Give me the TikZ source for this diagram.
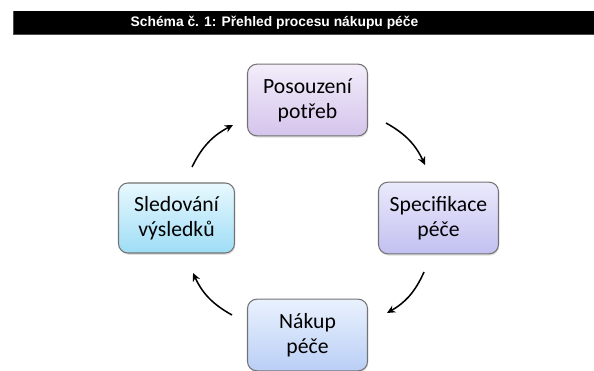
\documentclass[tikz,border=0pt]{standalone}
\usepackage{fontspec}
\setmainfont{Carlito}
\newfontfamily\titlefont{Liberation Sans}
\usetikzlibrary{arrows.meta,shadows}

\definecolor{needtop}{RGB}{243,237,250}
\definecolor{needbot}{RGB}{212,196,236}
\definecolor{spectop}{RGB}{234,234,252}
\definecolor{specbot}{RGB}{194,192,240}
\definecolor{buytop}{RGB}{233,241,253}
\definecolor{buybot}{RGB}{186,207,246}
\definecolor{tracktop}{RGB}{232,248,254}
\definecolor{trackbot}{RGB}{158,221,246}

\begin{document}
\begin{tikzpicture}[x=0.03cm, y=-0.03cm, node distance=3.93cm,
  block/.style={draw=black!55, line width=0.9pt, rounded corners=8pt, minimum width=3.6cm, minimum height=2.15cm, align=center, font=\fontsize{18.5}{21.5}\selectfont, drop shadow={shadow xshift=0.6pt, shadow yshift=-1.5pt, opacity=0.25}},
  cycle/.style={-{Stealth[length=7pt, width=6.5pt]}, line width=1.3pt, bend left=18}]

  \useasboundingbox (0,0) rectangle (594,371);

  % Title bar
  \fill[black] (13,11) rectangle (594,34);
  \draw[black!70, line width=0.8pt] (13,11) -- (13,34) -- (594,34);
  \node[text=white, font=\titlefont\bfseries\fontsize{11.8}{13}\selectfont] (T) at (274.5,22.5) {Schéma č. 1: Přehled procesu nákupu péče};

  % Boxes
  \node[coordinate] (C) at (307.5,218) {};
  \node[block, top color=needtop, bottom color=needbot, above of=C, node distance=3.54cm] (P) {Posouzení\\potřeb};
  \node[block, top color=spectop, bottom color=specbot, right of=C] (S) {Specifikace\\péče};
  \node[block, top color=buytop, bottom color=buybot, below of=C, node distance=3.51cm] (N) {Nákup\\péče};
  \node[block, top color=tracktop, bottom color=trackbot, minimum width=3.48cm, minimum height=2.1cm, left of=C] (L) {Sledování\\výsledků};

  % Arrow ends
  \coordinate (a1) at (386,123);
  \coordinate (b1) at (425,165);
  \coordinate (a2) at (424,272);
  \coordinate (b2) at (387,313);
  \coordinate (a3) at (232,315);
  \coordinate (b3) at (193,273);
  \coordinate (a4) at (192,167);
  \coordinate (b4) at (233,125);

  % Cycle arrows
  \draw[cycle] (a1) to (b1);
  \draw[cycle] (a2) to (b2);
  \draw[cycle] (a3) to (b3);
  \draw[cycle] (a4) to (b4);

\end{tikzpicture}
\end{document}
